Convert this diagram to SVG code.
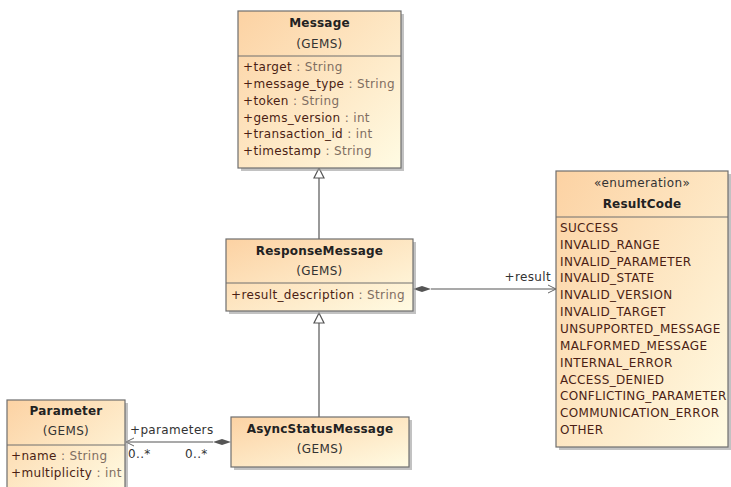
<svg xmlns="http://www.w3.org/2000/svg" width="731" height="487" viewBox="0 0 731 487">
<defs>
<linearGradient id="g" x1="0" y1="0" x2="1" y2="1">
<stop offset="0" stop-color="#fcd2a3"/>
<stop offset="1" stop-color="#fffbe3"/>
</linearGradient>
<marker id="open" markerWidth="10" markerHeight="10" refX="9" refY="5" orient="auto" markerUnits="userSpaceOnUse">
<path d="M1,1 L9,5 L1,9" fill="none" stroke="#666" stroke-width="1"/>
</marker>
</defs>
<style>
.box{fill:url(#g);stroke:#6e6e6e;stroke-width:1.2}
.sh{fill:#9a9a9a;opacity:0.6}
.sep{stroke:#6e6e6e;stroke-width:1}
text{font-family:"DejaVu Sans","Liberation Sans",sans-serif;font-size:12px;letter-spacing:0.35px}
.t{font-weight:bold;fill:#222;text-anchor:middle;letter-spacing:0.2px}
.p{fill:#333;text-anchor:middle}
.a{fill:#4b1e14}
.ty{fill:#7f6e62}
.ln{stroke:#555;stroke-width:1.2;fill:none}
.lbl{fill:#333}
</style>

<g id="connectors">
<line class="ln" x1="319" y1="178" x2="319" y2="239"/>
<path d="M319,168 L324,178 L314,178 Z" fill="#fff" stroke="#555" stroke-width="1.2"/>
<line class="ln" x1="319" y1="323" x2="319" y2="417"/>
<path d="M319,313 L324,323 L314,323 Z" fill="#fff" stroke="#555" stroke-width="1.2"/>
<line class="ln" x1="431" y1="289" x2="556" y2="289" marker-end="url(#open)"/>
<path d="M413,289 L422,286 L431,289 L422,292 Z" fill="#555"/>
<text class="lbl" x="551" y="281" text-anchor="end">+result</text>
<line class="ln" x1="213" y1="442" x2="126" y2="442" marker-end="url(#open)"/>
<path d="M231,442 L222,439 L213,442 L222,445 Z" fill="#555"/>
<text class="lbl" x="130" y="434">+parameters</text>
<text class="lbl" x="128" y="458">0..*</text>
<text class="lbl" x="185" y="458">0..*</text>
</g>

<g id="Message">
<rect class="sh" x="241" y="14" width="163" height="157"/>
<rect class="box" x="238" y="11" width="163" height="157"/>
<line class="sep" x1="238" y1="56" x2="401" y2="56"/>
<text class="t" x="319.5" y="27">Message</text>
<text class="p" x="319.5" y="48">(GEMS)</text>
<text x="243" y="71"><tspan class="a">+target</tspan><tspan class="ty"> : String</tspan></text>
<text x="243" y="88"><tspan class="a">+message_type</tspan><tspan class="ty"> : String</tspan></text>
<text x="243" y="105"><tspan class="a">+token</tspan><tspan class="ty"> : String</tspan></text>
<text x="243" y="122"><tspan class="a">+gems_version</tspan><tspan class="ty"> : int</tspan></text>
<text x="243" y="138"><tspan class="a">+transaction_id</tspan><tspan class="ty"> : int</tspan></text>
<text x="243" y="155"><tspan class="a">+timestamp</tspan><tspan class="ty"> : String</tspan></text>
</g>

<g id="ResponseMessage">
<rect class="sh" x="229" y="242" width="187" height="72"/>
<rect class="box" x="226" y="239" width="187" height="72"/>
<line class="sep" x1="226" y1="283" x2="413" y2="283"/>
<text class="t" x="319.5" y="255">ResponseMessage</text>
<text class="p" x="319.5" y="275">(GEMS)</text>
<text x="231" y="299"><tspan class="a">+result_description</tspan><tspan class="ty"> : String</tspan></text>
</g>

<g id="AsyncStatusMessage">
<rect class="sh" x="234" y="420" width="178" height="50"/>
<rect class="box" x="231" y="417" width="178" height="50"/>
<text class="t" x="320" y="433">AsyncStatusMessage</text>
<text class="p" x="320" y="453">(GEMS)</text>
</g>

<g id="Parameter">
<rect class="sh" x="10" y="403" width="118" height="90"/>
<rect class="box" x="7" y="400" width="118" height="90"/>
<line class="sep" x1="7" y1="445" x2="125" y2="445"/>
<text class="t" x="66" y="415">Parameter</text>
<text class="p" x="66" y="435">(GEMS)</text>
<text x="11" y="460"><tspan class="a">+name</tspan><tspan class="ty"> : String</tspan></text>
<text x="11" y="477"><tspan class="a">+multiplicity</tspan><tspan class="ty"> : int</tspan></text>
</g>

<g id="ResultCode">
<rect class="sh" x="559" y="174" width="172" height="276"/>
<rect class="box" x="556" y="171" width="172" height="276"/>
<line class="sep" x1="556" y1="217" x2="728" y2="217"/>
<text class="p" x="642" y="187">«enumeration»</text>
<text class="t" x="642" y="208">ResultCode</text>
<g class="a">
<text x="560" y="232">SUCCESS</text>
<text x="560" y="249">INVALID_RANGE</text>
<text x="560" y="266">INVALID_PARAMETER</text>
<text x="560" y="282">INVALID_STATE</text>
<text x="560" y="299">INVALID_VERSION</text>
<text x="560" y="316">INVALID_TARGET</text>
<text x="560" y="333">UNSUPPORTED_MESSAGE</text>
<text x="560" y="350">MALFORMED_MESSAGE</text>
<text x="560" y="367">INTERNAL_ERROR</text>
<text x="560" y="384">ACCESS_DENIED</text>
<text x="560" y="400">CONFLICTING_PARAMETER</text>
<text x="560" y="417">COMMUNICATION_ERROR</text>
<text x="560" y="434">OTHER</text>
</g>
</g>
</svg>
